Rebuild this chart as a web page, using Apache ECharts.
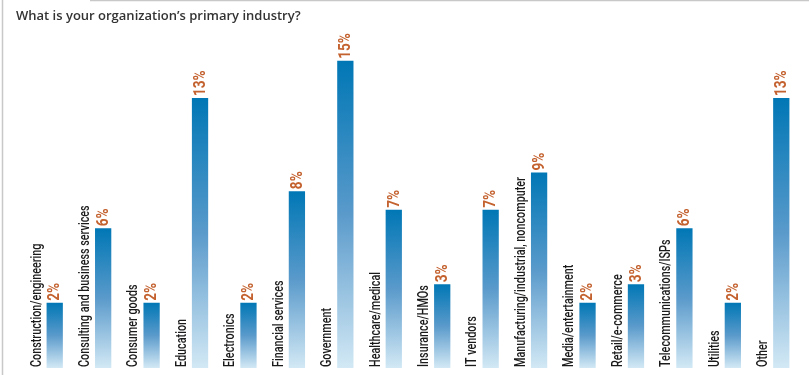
<!DOCTYPE html>
<html>
<head>
<meta charset="utf-8">
<script src="https://cdn.jsdelivr.net/npm/echarts@6/dist/echarts.min.js"></script>
<style>
    html, body { margin: 0; padding: 0; background: #fff; }
    #chart { width: 809px; height: 375px; }
</style>
</head>
<body>
<div id="chart"></div>
<script>
const categories = [
    'Construction/engineering',
    'Consulting and business services',
    'Consumer goods',
    'Education',
    'Electronics',
    'Financial services',
    'Government',
    'Healthcare/medical',
    'Insurance/HMOs',
    'IT vendors',
    'Manufacturing/industrial, noncomputer',
    'Media/entertainment',
    'Retail/e-commerce',
    'Telecommunications/ISPs',
    'Utilities',
    'Other',
];
const shares = [2, 6, 2, 13, 2, 8, 15, 7, 3, 7, 9, 2, 3, 6, 2, 13];

const axisMin = -1.5;
const axisMax = 16;

const labelFont = 'Roboto, sans-serif';

const chart = echarts.init(document.getElementById('chart'));

// bars start at the bottom of the axis, labels sit left of each bar
const renderBar = (params, api) => {
    const idx = api.value(0);
    const val = api.value(1);
    const top = api.coord([idx, val]);
    const bottom = api.coord([idx, axisMin]);
    const band = api.size([1, 0])[0];
    const w = band * 0.336;
    const cx = top[0];

    return {
        type: 'group',
        children: [
            {
                type: 'rect',
                shape: { x: cx - w / 2, y: top[1], width: w, height: bottom[1] - top[1] },
                style: {
                    fill: new echarts.graphic.LinearGradient(0, 0, 0, 1, [
                        { offset: 0, color: '#0077b5' },
                        { offset: 0.5, color: '#5a9acb' },
                        { offset: 1, color: '#d3e9f5' },
                    ]),
                },
            },
            {
                type: 'text',
                x: cx + 0.5,
                y: top[1] - 2,
                rotation: Math.PI / 2,
                scaleX: 0.8,
                style: {
                    text: val + '%',
                    align: 'left',
                    verticalAlign: 'middle',
                    fill: '#c4622f',
                    font: 'bold 17px ' + labelFont,
                },
            },
            {
                type: 'text',
                x: cx - band * 0.37,
                y: bottom[1] - 1,
                rotation: Math.PI / 2,
                scaleX: 0.72,
                style: {
                    text: categories[idx],
                    align: 'left',
                    verticalAlign: 'middle',
                    fill: '#1a1a1a',
                    font: '500 15px ' + labelFont,
                },
            },
        ],
    };
};

const option = {
    animation: false,
    title: {
        text: 'What is your organization\u2019s primary industry?',
        left: 11,
        top: 5,
        textStyle: {
            color: '#333',
            fontFamily: 'Open Sans',
            fontWeight: 600,
            fontSize: 13,
        },
    },
    grid: {
        left: 30.5,
        right: 3.5,
        top: 42.2,
        bottom: 7,
    },
    xAxis: {
        type: 'category',
        data: categories,
        show: false,
    },
    yAxis: {
        type: 'value',
        min: axisMin,
        max: axisMax,
        show: false,
    },
    series: [
        {
            type: 'custom',
            renderItem: renderBar,
            data: shares.map((v, i) => [i, v]),
        },
    ],
    graphic: [
        {
            type: 'line',
            shape: { x1: 2.5, y1: 0, x2: 2.5, y2: 375 },
            style: { stroke: '#c8c8c8', lineWidth: 1.5 },
        },
        {
            type: 'line',
            shape: { x1: 90, y1: 0.5, x2: 809, y2: 0.5 },
            style: { stroke: '#c8c8c8', lineWidth: 1.5 },
        },
    ],
};

chart.setOption(option);
</script>
</body>
</html>
